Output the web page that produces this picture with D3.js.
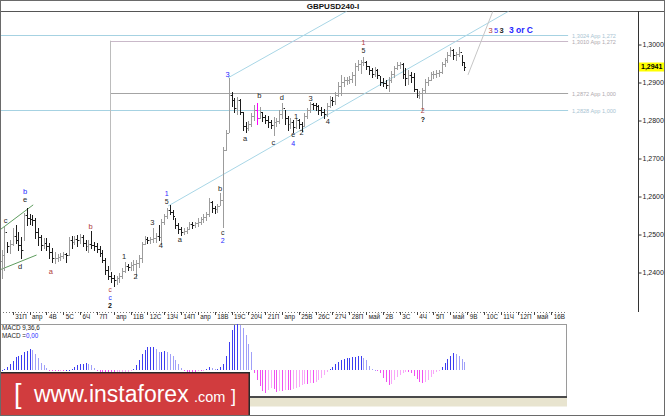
<!DOCTYPE html>
<html><head><meta charset="utf-8">
<script src="https://cdn.jsdelivr.net/npm/d3@7"></script>
<style>
html,body{margin:0;padding:0;background:#fff;}
svg{display:block;font-family:"Liberation Sans",Arial,sans-serif;}
</style></head><body>
<svg id="c" width="665" height="416"></svg>
<script>
// ---------- DATA ----------
const title = "GBPUSD240-I";
const dayLabels = ["31П","апр","4В","5С","6Ч","7П","апр","11В","12С","13Ч","14П","апр","18В","19С","20Ч","21П","апр","25В","26С","27Ч","28П","май","2В","3С","4Ч","5П","май","9В","10С","11Ч","12П","май","16В"];
const priceTicks = [1.24,1.25,1.26,1.27,1.28,1.29,1.30];
const lastPrice = 1.2941;
const firstOpen = 1.2430;
const highs = [
1.2459,1.2520,1.2480,1.2486,1.2517,1.2525,1.2507,1.2493,1.2557,1.2570,
1.2554,1.2551,1.2543,1.2517,1.2499,1.2491,1.2491,1.2478,1.2464,1.2454,
1.2449,1.2451,1.2454,1.2451,1.2493,1.2496,1.2496,1.2499,1.2501,1.2499,
1.2486,1.2486,1.2509,1.2480,1.2478,1.2470,1.2459,1.2438,1.2417,1.2401,
1.2393,1.2391,1.2399,1.2412,1.2428,1.2422,1.2428,1.2433,1.2433,1.2446,
1.2480,1.2496,1.2493,1.2493,1.2517,1.2504,1.2525,1.2541,1.2554,1.2570,
1.2578,1.2564,1.2543,1.2530,1.2520,1.2517,1.2520,1.2533,1.2533,1.2533,
1.2543,1.2546,1.2554,1.2559,1.2596,1.2588,1.2575,1.2580,1.2609,1.2730,
1.2775,1.2912,1.2875,1.2859,1.2862,1.2857,1.2822,1.2796,1.2799,1.2820,
1.2841,1.2846,1.2836,1.2822,1.2814,1.2812,1.2801,1.2809,1.2807,1.2828,
1.2846,1.2828,1.2812,1.2807,1.2801,1.2807,1.2804,1.2796,1.2820,1.2833,
1.2849,1.2846,1.2846,1.2841,1.2836,1.2830,1.2846,1.2865,1.2862,1.2875,
1.2901,1.2920,1.2915,1.2915,1.2917,1.2928,1.2951,1.2959,1.2959,1.2967,
1.2957,1.2943,1.2938,1.2941,1.2936,1.2917,1.2912,1.2907,1.2915,1.2930,
1.2943,1.2954,1.2954,1.2951,1.2938,1.2933,1.2928,1.2925,1.2883,1.2878,
1.2886,1.2909,1.2915,1.2928,1.2930,1.2933,1.2933,1.2954,1.2964,1.2980,
1.2993,1.2988,1.2980,1.2993,1.2972,1.2954];
const lows = [
1.2386,1.2407,1.2454,1.2451,1.2472,1.2478,1.2459,1.2438,1.2486,1.2525,
1.2528,1.2525,1.2491,1.2472,1.2459,1.2464,1.2459,1.2438,1.2428,1.2425,
1.2430,1.2433,1.2438,1.2428,1.2446,1.2464,1.2475,1.2470,1.2478,1.2470,
1.2459,1.2454,1.2464,1.2459,1.2454,1.2443,1.2428,1.2396,1.2383,1.2375,
1.2365,1.2370,1.2375,1.2386,1.2401,1.2407,1.2407,1.2407,1.2388,1.2415,
1.2428,1.2475,1.2478,1.2478,1.2480,1.2480,1.2486,1.2475,1.2528,1.2543,
1.2554,1.2541,1.2517,1.2504,1.2499,1.2501,1.2504,1.2514,1.2517,1.2520,
1.2522,1.2528,1.2533,1.2538,1.2549,1.2559,1.2557,1.2559,1.2578,1.2520,
1.2722,1.2770,1.2838,1.2822,1.2817,1.2817,1.2775,1.2770,1.2775,1.2786,
1.2801,1.2791,1.2807,1.2799,1.2793,1.2783,1.2780,1.2762,1.2786,1.2793,
1.2807,1.2791,1.2775,1.2780,1.2770,1.2780,1.2780,1.2772,1.2786,1.2807,
1.2822,1.2830,1.2828,1.2817,1.2814,1.2807,1.2812,1.2836,1.2841,1.2843,
1.2865,1.2867,1.2891,1.2896,1.2899,1.2901,1.2893,1.2933,1.2925,1.2946,
1.2936,1.2922,1.2915,1.2917,1.2912,1.2893,1.2891,1.2886,1.2878,1.2901,
1.2915,1.2936,1.2938,1.2912,1.2893,1.2896,1.2901,1.2878,1.2862,1.2859,
1.2828,1.2875,1.2893,1.2907,1.2912,1.2915,1.2917,1.2925,1.2943,1.2954,
1.2970,1.2962,1.2959,1.2970,1.2946,1.2933];
const closes = [
1.2446,1.2507,1.2470,1.2475,1.2496,1.2486,1.2472,1.2459,1.2551,1.2543,
1.2541,1.2538,1.2507,1.2493,1.2472,1.2478,1.2470,1.2454,1.2438,1.2438,
1.2441,1.2443,1.2449,1.2446,1.2486,1.2480,1.2488,1.2486,1.2493,1.2478,
1.2470,1.2475,1.2472,1.2470,1.2462,1.2451,1.2433,1.2407,1.2391,1.2386,
1.2380,1.2386,1.2391,1.2404,1.2417,1.2415,1.2420,1.2422,1.2425,1.2438,
1.2475,1.2488,1.2486,1.2488,1.2491,1.2496,1.2493,1.2533,1.2549,1.2564,
1.2559,1.2549,1.2525,1.2514,1.2507,1.2509,1.2514,1.2528,1.2525,1.2530,
1.2533,1.2541,1.2546,1.2554,1.2586,1.2570,1.2567,1.2575,1.2591,1.2722,
1.2767,1.2867,1.2854,1.2833,1.2854,1.2822,1.2786,1.2780,1.2791,1.2812,
1.2828,1.2807,1.2822,1.2809,1.2801,1.2796,1.2788,1.2796,1.2799,1.2817,
1.2833,1.2807,1.2791,1.2796,1.2783,1.2801,1.2791,1.2786,1.2812,1.2828,
1.2843,1.2841,1.2838,1.2828,1.2822,1.2817,1.2838,1.2854,1.2851,1.2867,
1.2891,1.2901,1.2907,1.2907,1.2909,1.2920,1.2943,1.2949,1.2954,1.2954,
1.2943,1.2933,1.2922,1.2933,1.2920,1.2901,1.2899,1.2893,1.2907,1.2922,
1.2938,1.2946,1.2949,1.2922,1.2912,1.2920,1.2915,1.2883,1.2867,1.2872,
1.2880,1.2901,1.2907,1.2922,1.2922,1.2925,1.2928,1.2949,1.2959,1.2972,
1.2986,1.2972,1.2975,1.2980,1.2954,1.2941];
const highlightBar = 91;
// MACD histogram, in units of 0.0001
const macdHist = [
0.5,1,3,6,9,13,14,15,18,19,21,20,16,12,7,5,2,
-0.5,-1,-1,-1,-0.5,-0.5,0.5,0.5,
1,3,5,6,6,7,6,5,2,
-1,-2,-4,-7,-9,-10,-10,-9,-8,-6,-4,-3,-1,1,
5,10,16,20,23,23,23,21,18,18,19,18,16,14,10,6,2,
-1,-2,-2,-2,-2,-1,-1,-0.5,1,3,2,1,
1,3,6,14,28,40,45,46,45,42,35,26,18,
-3,-10,-16,-21,-23,-20,-18,-19,-22,-21,-21,-20,-20,-20,-19,-18,-17,-15,-14,-14,-13,-13,-12,-10,-8,-5,-2,
1,3,6,8,10,11,12,12,13,13,14,14,12,10,4,
1,0.5,-1,-3,-8,-12,-15,-14,-10,-7,-5,-3,-2,-2,-3,-6,-9,-12,-13,-12,-10,-7,-4,-2,-1,
3,7,11,14,17,16,14,11,8];
const levels = [
  {price:1.3024, from:-1, text:"1,3024 App 1,272", color:"#a6d2e2", tcolor:"#a9c4d2"},
  {price:1.3010, from:38.7, text:"1,3010 App 1,272", color:"#c9b9c9", tcolor:"#b0aab0"},
  {price:1.2872, from:38.7, text:"1,2872 App 1,000", color:"#a4a4a4", tcolor:"#b0aab0"},
  {price:1.2828, from:-1, text:"1,2828 App 1,000", color:"#a6d2e2", tcolor:"#a9c4d2"}
];
const levelEnd = 202;
const fibVertical = {i:38.7, top:1.3010, bottom:1.2405};
const trendLines = [
  {i1:80.7, p1:1.2912, i2:123.2, p2:1.3088, color:"#a8d6e6"},
  {i1:59.4, p1:1.2575, i2:180.9, p2:1.3088, color:"#a8d6e6"},
  {i1:166.3, p1:1.2920, i2:175.2, p2:1.3088, color:"#c6c6c6"},
  {i1:-0.6, p1:1.2512, i2:11.3, p2:1.2578, color:"#5e9c5e"},
  {i1:-0.6, p1:1.2407, i2:12.5, p2:1.2446, color:"#5e9c5e"}
];
const BLUE="#2626ff", RED="#b03a3a", DARK="#262626";
const waveLabels = [
  {t:"c",i:1.5,p:1.2536,c:DARK},{t:"b",i:8.4,p:1.2614,c:BLUE},{t:"e",i:8.4,p:1.2593,c:DARK},
  {t:"d",i:6.6,p:1.2417,c:DARK},{t:"a",i:17.6,p:1.2402,c:RED},{t:"b",i:31.8,p:1.2521,c:RED},
  {t:"c",i:38.7,p:1.2354,c:RED,s:6.5},{t:"c",i:38.7,p:1.2335,c:BLUE,s:6.5},{t:"2",i:38.7,p:1.2314,c:"#111",b:1,s:7},
  {t:"1",i:43.7,p:1.2442,c:DARK},{t:"2",i:47.8,p:1.2389,c:DARK},{t:"3",i:53.8,p:1.2531,c:DARK},
  {t:"4",i:56.8,p:1.2472,c:DARK},{t:"1",i:58.9,p:1.2607,c:BLUE,s:7},{t:"5",i:58.9,p:1.2588,c:DARK,s:7},
  {t:"a",i:63.6,p:1.2486,c:DARK},{t:"b",i:77.9,p:1.2622,c:DARK},{t:"c",i:78.9,p:1.2505,c:DARK,s:7},
  {t:"2",i:78.9,p:1.2484,c:BLUE,s:7},{t:"3",i:80.6,p:1.2920,c:BLUE},{t:"a",i:86.8,p:1.2753,c:DARK},
  {t:"b",i:91.9,p:1.2867,c:DARK},{t:"c",i:96.9,p:1.2742,c:DARK},{t:"d",i:99.9,p:1.2861,c:DARK},
  {t:"e",i:104.0,p:1.2763,c:DARK,s:7},{t:"4",i:104.0,p:1.2740,c:BLUE,s:7},{t:"1",i:105.0,p:1.2810,c:DARK},
  {t:"2",i:107.0,p:1.2768,c:DARK},{t:"3",i:110.2,p:1.2858,c:DARK},{t:"4",i:116.3,p:1.2797,c:DARK},
  {t:"1",i:129.0,p:1.3004,c:RED,s:7},{t:"5",i:129.0,p:1.2983,c:DARK,s:7},{t:"2",i:150.2,p:1.2827,c:RED,s:7},
  {t:"?",i:150.2,p:1.2803,c:"#111",b:1,s:7},
  {t:"3",i:174.4,p:1.3038,c:RED},{t:"5",i:176.3,p:1.3038,c:BLUE},{t:"3",i:178.3,p:1.3038,c:DARK,b:1},
  {t:"3 or C",i:180.9,p:1.3038,c:BLUE,b:1,start:1,s:8.5}
];
const macdTitle = "MACD 9,36,6";
const macdValueLabel = ["MACD =","0,00"];

// ---------- CHART ----------
const svg = d3.select("#c");
const W=665, H=416, TOP=11, AXY=312, RIGHT=638, MACDR=566;
const xs = d3.scaleLinear().domain([0,196]).range([1.5, 1.5+2.805*196]);
const ys = d3.scaleLinear().domain([1.24,1.30]).range([272.5,44.5]);
const ym = d3.scaleLinear().domain([-26,46]).range([396,324]);
const fmt = d => d3.format(".4f")(d).replace(".",",");

svg.append("rect").attr("width",W).attr("height",H).attr("fill","#fff");
const defs = svg.append("defs");
defs.append("clipPath").attr("id","plot").append("rect").attr("x",0).attr("y",TOP+0.5).attr("width",RIGHT).attr("height",AXY-TOP-1);

// title
svg.append("text").attr("x",333).attr("y",6).attr("text-anchor","middle").attr("dominant-baseline","central")
  .attr("font-size",8).attr("font-weight","bold").attr("fill","#111").text(title);
svg.append("line").attr("x1",0).attr("x2",W).attr("y1",TOP+0.5).attr("y2",TOP+0.5).attr("stroke","#555");

const gP = svg.append("g").attr("clip-path","url(#plot)");

// levels
levels.forEach(l=>{
  const y = Math.round(ys(l.price))+0.5;
  gP.append("line").attr("x1",xs(l.from)).attr("x2",xs(levelEnd)).attr("y1",y).attr("y2",y).attr("stroke",l.color);
  gP.append("text").attr("x",xs(levelEnd)+4).attr("y",y).attr("dominant-baseline","central")
    .attr("font-size",5.6).attr("fill",l.tcolor).text(l.text);
});
gP.append("line").attr("x1",Math.round(xs(fibVertical.i))+0.5).attr("x2",Math.round(xs(fibVertical.i))+0.5)
  .attr("y1",ys(fibVertical.top)).attr("y2",ys(fibVertical.bottom)).attr("stroke","#bcbcbc");

// trend lines
gP.selectAll("line.tl").data(trendLines).enter().append("line").attr("class","tl")
  .attr("x1",d=>xs(d.i1)).attr("y1",d=>ys(d.p1)).attr("x2",d=>xs(d.i2)).attr("y2",d=>ys(d.p2))
  .attr("stroke",d=>d.color).attr("stroke-width",1);

// bars
const bars = highs.map((h,i)=>({i, o: i?closes[i-1]:firstOpen, h, l:lows[i], c:closes[i]}));
const gB = gP.append("g").attr("shape-rendering","crispEdges");
const bg = gB.selectAll("g").data(bars).enter().append("g")
  .attr("fill",d=> d.i===highlightBar ? "#ff00ff" : (d.c>=d.o ? "#9c9c9c" : "#1c1c1c"));
bg.append("rect").attr("x",d=>Math.round(xs(d.i))).attr("y",d=>Math.round(ys(d.h)))
  .attr("width",1).attr("height",d=>Math.max(1,Math.round(ys(d.l))-Math.round(ys(d.h))+1));
bg.append("rect").attr("x",d=>Math.round(xs(d.i))-1).attr("y",d=>Math.round(ys(d.o))).attr("width",1).attr("height",1);
bg.append("rect").attr("x",d=>Math.round(xs(d.i))+1).attr("y",d=>Math.round(ys(d.c))).attr("width",1).attr("height",1);

// wave labels
gP.selectAll("text.wl").data(waveLabels).enter().append("text").attr("class","wl")
  .attr("x",d=>xs(d.i)).attr("y",d=>ys(d.p))
  .attr("text-anchor",d=>d.start?"start":"middle").attr("dominant-baseline","central")
  .attr("font-size",d=>d.s||7.5).attr("font-weight",d=>d.b?"bold":"normal")
  .attr("fill",d=>d.c).text(d=>d.t);

// price axis
svg.append("line").attr("x1",RIGHT+0.5).attr("x2",RIGHT+0.5).attr("y1",TOP).attr("y2",AXY).attr("stroke","#333");
const pa = svg.append("g").attr("transform",`translate(${RIGHT+0.5},0)`)
  .call(d3.axisRight(ys).tickValues(priceTicks).tickSize(3).tickPadding(1).tickFormat(fmt));
pa.select(".domain").remove();
pa.selectAll("line").attr("stroke","#333");
pa.selectAll("text").attr("font-size",7).attr("fill","#222").attr("font-family","Liberation Sans, Arial, sans-serif");
// current price box
const yl = ys(lastPrice);
svg.append("rect").attr("x",RIGHT+1).attr("y",Math.round(yl)-4.5).attr("width",W-RIGHT-1).attr("height",9).attr("fill","#ffff00");
svg.append("text").attr("x",RIGHT+3).attr("y",yl).attr("dominant-baseline","central").attr("font-size",7)
  .attr("font-weight","bold").attr("fill","#000").text(fmt(lastPrice));

// time axis
svg.append("line").attr("x1",0).attr("x2",MACDR).attr("y1",AXY+0.5).attr("y2",AXY+0.5)
  .attr("stroke","#777").attr("stroke-dasharray","1,2");
const ta = svg.append("g").attr("transform",`translate(0,${AXY})`)
  .call(d3.axisBottom(xs).tickValues(dayLabels.map((d,k)=>4+6*k)).tickSize(3).tickFormat((d,k)=>dayLabels[k]));
ta.select(".domain").remove();
ta.selectAll("line").attr("stroke","#444").attr("shape-rendering","crispEdges");
ta.selectAll("text").attr("font-size",6.3).attr("fill","#222").attr("text-anchor","start")
  .attr("x",2).attr("y",3).attr("dy","0.71em").attr("font-family","Liberation Sans, Arial, sans-serif");

// MACD panel
svg.append("rect").attr("x",0.5).attr("y",324.5).attr("width",MACDR).attr("height",72).attr("fill","#fff")
  .attr("stroke","#9a9a9a");
const gM = svg.append("g").attr("shape-rendering","crispEdges");
gM.selectAll("rect").data(macdHist).enter().append("rect")
  .attr("x",(d,i)=>Math.round(xs(i))).attr("width",1)
  .attr("y",d=>Math.min(ym(0),ym(d))).attr("height",d=>Math.max(1,Math.abs(ym(d)-ym(0))))
  .attr("fill",(d,i)=>{
    const prev = i? macdHist[i-1] : 0;
    if(d>=0) return d>=prev ? "#3c3cf0" : "#a0a0f8";
    return d<=prev ? "#f050f0" : "#f8a8f8";
  });
svg.append("text").attr("x",2).attr("y",327.5).attr("dominant-baseline","central").attr("font-size",6.3)
  .attr("fill","#222").text(macdTitle);
const mt = svg.append("text").attr("x",2).attr("y",335).attr("dominant-baseline","central").attr("font-size",6.3).attr("fill","#222");
mt.append("tspan").text(macdValueLabel[0]);
mt.append("tspan").attr("fill","#2a2aff").text(macdValueLabel[1]);
// bottom strip
svg.append("rect").attr("x",0).attr("y",396).attr("width",MACDR+1).attr("height",2).attr("fill","#4a4a4a");
svg.append("rect").attr("x",0).attr("y",398).attr("width",MACDR+1).attr("height",8.5).attr("fill","#e8e4cf");

// watermark
const wm = svg.append("g");
wm.append("rect").attr("x",0).attr("y",372).attr("width",250).attr("height",44).attr("fill","#d13c3e");
wm.append("path").attr("d","M0,372.75H249.25V416").attr("fill","none").attr("stroke","#2a2a2a").attr("stroke-width",1.5);
const wf = "'Liberation Sans', Arial, sans-serif";
wm.append("text").attr("x",14).attr("y",403).attr("font-size",27).attr("font-family",wf).attr("fill","#fff").text("[");
wm.append("text").attr("x",34).attr("y",401.5).attr("font-size",23).attr("font-family",wf).attr("fill","#fff").text("www.instaforex");
wm.append("text").attr("x",194).attr("y",401.5).attr("font-size",14.5).attr("font-family",wf).attr("fill","#fff").text(".com");
wm.append("text").attr("x",231).attr("y",401.5).attr("font-size",18).attr("font-family",wf).attr("fill","#fff").text("]");

// outer border
svg.append("rect").attr("x",0.5).attr("y",0.5).attr("width",W-1).attr("height",H-1).attr("fill","none").attr("stroke","#6a6a6a");
</script>
</body></html>
